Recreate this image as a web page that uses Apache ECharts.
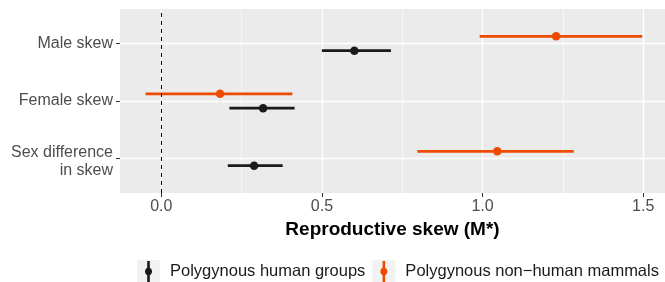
<!DOCTYPE html>
<html>
<head>
<meta charset="utf-8">
<script src="https://cdn.jsdelivr.net/npm/echarts@6/dist/echarts.min.js"></script>
<style>
html, body { margin: 0; padding: 0; background: #fff; }
#chart { width: 665px; height: 282px; }
</style>
</head>
<body>
<div id="chart"></div>
<script>
// categories from bottom to top sit at 1, 2, 3
var categories = ['Sex difference\nin skew', 'Female skew', 'Male skew'];
var catPos = [1, 2, 3];
var xTicks = [0, 0.5, 1, 1.5];
var xMinor = [0.25, 0.75, 1.25];

var humanName = 'Polygynous human groups';
var humanMean = [0.289, 0.317, 0.601];
var humanLow = [0.207, 0.212, 0.500];
var humanHigh = [0.378, 0.415, 0.715];

var mammalName = 'Polygynous non\u2212human mammals';
var mammalMean = [1.046, 0.183, 1.229];
var mammalLow = [0.797, -0.049, 0.991];
var mammalHigh = [1.284, 0.408, 1.497];

var dodge = 0.125;
var black = '#1a1a1a';
var red = '#EE4A00';
var font = '"Liberation Sans", Arial, sans-serif';

function bars(low, high, off) {
	var out = [];
	for (var i = 0; i < catPos.length; i++) {
		out.push([low[i], high[i], catPos[i] + off]);
	}
	return out;
}
function points(mean, off) {
	var out = [];
	for (var i = 0; i < catPos.length; i++) {
		out.push([mean[i], catPos[i] + off]);
	}
	return out;
}
function renderBar(params, api) {
	var a = api.coord([api.value(0), api.value(2)]);
	var b = api.coord([api.value(1), api.value(2)]);
	return {
		type: 'line',
		shape: { x1: a[0], y1: a[1], x2: b[0], y2: b[1] },
		style: { stroke: api.visual('color'), lineWidth: 2.8 }
	};
}

// key glyph: vertical line with a dot, plus two zero-area corners so the box stays 23x23
var keyIcon = 'path://M0,0 L0.01,0 Z M23,23 L22.99,23 Z ' +
	'M10.2,1 L12.8,1 L12.8,7.8 A4.2,4.2 0 0 1 12.8,15.2 L12.8,23 L10.2,23 L10.2,15.2 A4.2,4.2 0 0 1 10.2,7.8 Z';

var legendBase = {
	left: 137,
	top: 260,
	padding: 0,
	itemWidth: 23,
	itemHeight: 23,
	itemGap: 7,
	selectedMode: false
};

var labelStyle = { fontSize: 16, color: '#4D4D4D', fontFamily: font, lineHeight: 18 };

var chart = echarts.init(document.getElementById('chart'));
chart.setOption({
	animation: false,
	textStyle: { fontFamily: font },
	grid: { left: 120, right: 0, top: 9, bottom: 89, backgroundColor: '#EBEBEB', show: true, borderWidth: 0 },
	legend: [
		echarts.util.extend({
			textStyle: { fontSize: 16.5, color: '#1a1a1a', fontFamily: font, padding: [0, 0, 0, 5] },
			data: [
				{ name: humanName, icon: 'rect', itemStyle: { color: '#F2F2F2' } },
				{ name: mammalName, icon: 'rect', itemStyle: { color: '#F2F2F2' } }
			]
		}, legendBase),
		echarts.util.extend({
			textStyle: { fontSize: 16.5, color: 'rgba(0,0,0,0)', fontFamily: font, padding: [0, 0, 0, 5] },
			data: [
				{ name: humanName, icon: keyIcon },
				{ name: mammalName, icon: keyIcon }
			]
		}, legendBase)
	],
	xAxis: [
		{
			type: 'value',
			min: -0.1285,
			max: 1.568,
			name: 'Reproductive skew (M*)',
			nameLocation: 'middle',
			nameGap: 21,
			nameTextStyle: { fontSize: 19, fontWeight: 'bold', color: '#000', fontFamily: font, verticalAlign: 'top' },
			axisLine: { show: false },
			axisTick: { show: true, customValues: xTicks, length: 4, lineStyle: { color: '#333', width: 1 } },
			axisLabel: { customValues: xTicks, fontSize: 16, color: '#4D4D4D', margin: 6, formatter: function (v) { return v.toFixed(1); } },
			splitLine: { show: true, lineStyle: { color: '#fff', width: 1.3 } }
		},
		{
			type: 'value',
			min: -0.1285,
			max: 1.568,
			position: 'bottom',
			axisLine: { show: false },
			axisTick: { show: false, customValues: xMinor },
			axisLabel: { show: false, customValues: xMinor },
			splitLine: { show: true, lineStyle: { color: '#fff', width: 0.6 } }
		}
	],
	yAxis: {
		type: 'value',
		min: 0.4,
		max: 3.6,
		axisLine: { show: false, onZero: false },
		axisTick: { show: true, customValues: catPos, length: 4, lineStyle: { color: '#333', width: 1 } },
		axisLabel: {
			customValues: catPos,
			fontSize: 16,
			color: '#4D4D4D',
			margin: 7,
			align: 'right',
			lineHeight: 18,
			rich: {
				gap: { fontSize: 6, lineHeight: 7, fontFamily: font },
				txt: labelStyle
			},
			formatter: function (v) {
				var parts = categories[Math.round(v) - 1].split('\n');
				if (parts.length === 1) return parts[0];
				// two-line label sits a little below its tick, as in the original
				return '{gap| }\n{txt|' + parts[0] + '}\n{txt|' + parts[1] + '}';
			}
		},
		splitLine: { show: true, lineStyle: { color: '#fff', width: 1.3 } }
	},
	series: [
		{
			name: humanName,
			type: 'custom',
			renderItem: renderBar,
			itemStyle: { color: black },
			encode: { x: [0, 1], y: 2 },
			data: bars(humanLow, humanHigh, -dodge),
			markLine: {
				silent: true,
				symbol: 'none',
				label: { show: false },
				lineStyle: { color: '#000', type: [4, 4], width: 1 },
				data: [{ xAxis: 0 }]
			}
		},
		{
			name: humanName,
			type: 'scatter',
			symbol: 'circle',
			symbolSize: 8.5,
			itemStyle: { color: black, opacity: 1 },
			data: points(humanMean, -dodge)
		},
		{
			name: mammalName,
			type: 'custom',
			renderItem: renderBar,
			itemStyle: { color: red },
			encode: { x: [0, 1], y: 2 },
			data: bars(mammalLow, mammalHigh, dodge)
		},
		{
			name: mammalName,
			type: 'scatter',
			symbol: 'circle',
			symbolSize: 8.5,
			itemStyle: { color: red, opacity: 1 },
			data: points(mammalMean, dodge)
		}
	]
});
</script>
</body>
</html>
